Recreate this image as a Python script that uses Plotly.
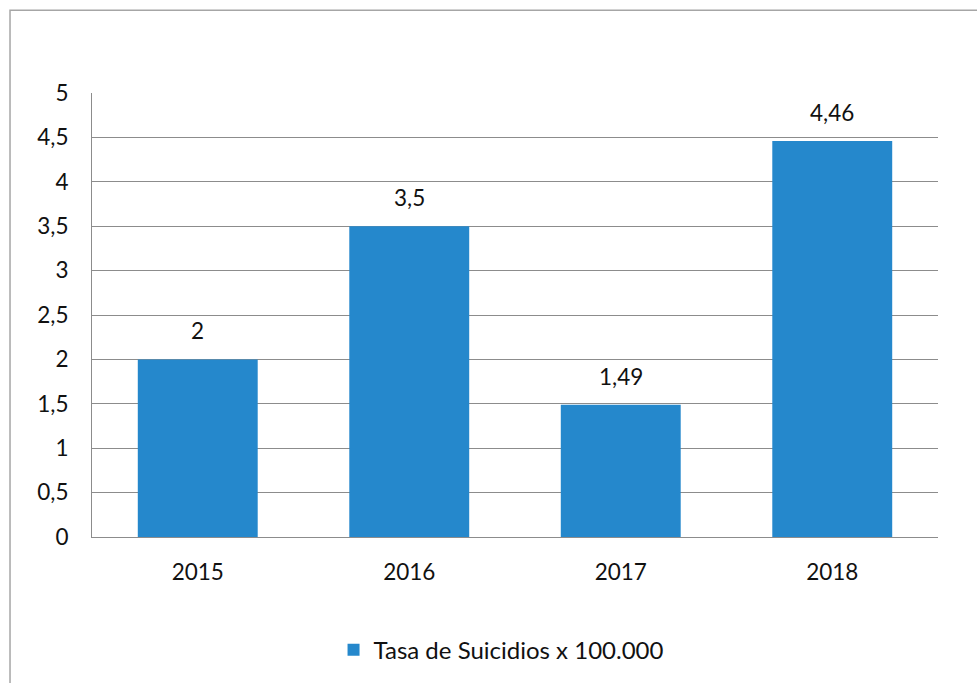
import plotly.graph_objects as go

years = ["2015", "2016", "2017", "2018"]
rates = [2, 3.5, 1.49, 4.46]
series_name = "Tasa de Suicidios x 100.000"
y_ticks = [0, 0.5, 1, 1.5, 2, 2.5, 3, 3.5, 4, 4.5, 5]

BAR = "#2588CC"
GRID = "#8C8C8C"
FONT = "Lato"
FS = 22.5

fig = go.Figure()
fig.add_trace(go.Bar(x=years, y=rates, name=series_name, marker=dict(color=BAR, line=dict(width=0)),
                     showlegend=True))

for i, v in enumerate(rates):
    fig.add_annotation(x=i, y=v, text=str(v).replace(".", ","), showarrow=False,
                       yanchor="bottom", yshift=13, font=dict(family=FONT, size=FS, color="#111"))

fig.add_shape(type="rect", xref="paper", yref="paper", x0=-0.0969, x1=1.2, y0=-0.6, y1=1.1865,
              line=dict(color="#A6A6A6", width=1.5), fillcolor="rgba(0,0,0,0)", layer="below")

fig.update_layout(
    width=977, height=683,
    margin=dict(l=92, r=39, t=93, b=145),
    plot_bgcolor="white", paper_bgcolor="white",
    separators=",.",
    bargap=0.433,
    font=dict(family=FONT, size=FS, color="#111"),
    legend=dict(orientation="h", x=0.4835, xanchor="center", y=-0.252, yanchor="middle",
                font=dict(family=FONT, size=24, color="#111"), itemwidth=30),
    xaxis=dict(type="category", range=[-0.5, len(years) - 0.5], showline=True, linecolor=GRID,
               linewidth=1, showgrid=False, ticks="",
               ticklabelstandoff=15, tickfont=dict(family=FONT, size=FS)),
    yaxis=dict(range=[0, 5], tickvals=y_ticks, showgrid=True, gridcolor=GRID, gridwidth=1,
               showline=True, linecolor=GRID, linewidth=1, zeroline=False, ticks="",
               ticklabelstandoff=18, tickfont=dict(family=FONT, size=FS)),
)

fig.write_html("out.html", config={"displayModeBar": False},
               post_script="document.body.style.margin='0';")
